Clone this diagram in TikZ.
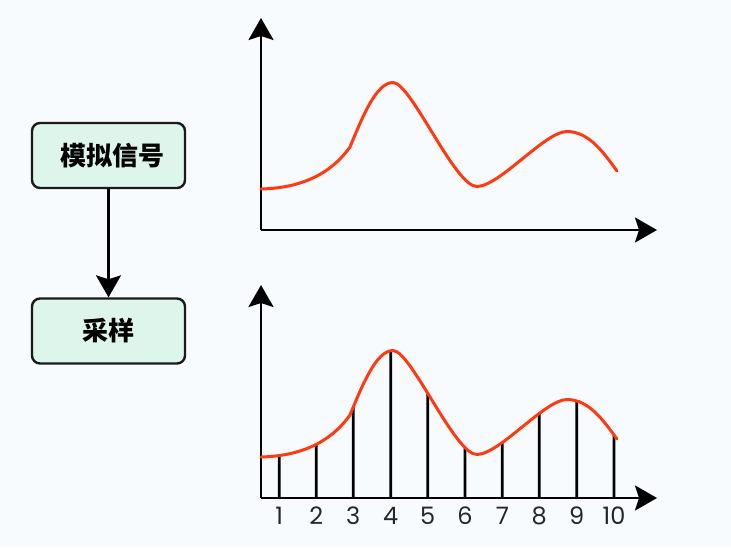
\documentclass[tikz,border=0pt]{standalone}
\usepackage{fontspec}
\setmainfont{Poppins}
\newfontfamily\cjk{Noto Sans CJK SC}
\usetikzlibrary{arrows.meta,intersections}
\definecolor{bgc}{HTML}{F8FBFE}
\definecolor{boxfill}{HTML}{DEF5EB}
\definecolor{boxline}{HTML}{1A1A1A}
\definecolor{curvec}{HTML}{FF3A10}
\tikzset{
  stepbox/.style={draw=boxline, line width=2.4pt, fill=boxfill, rounded corners=8pt,
    minimum width=153pt, minimum height=65pt, inner sep=0pt,
    font=\cjk\bfseries\fontsize{26}{26}\selectfont},
  bigarrow/.style={-{Stealth[length=22pt,width=25pt,inset=4pt]}},
  axisline/.style={line width=2.7pt, black, bigarrow},
  signal/.style={line width=3pt, curvec, line cap=round, line join=round},
  sampleline/.style={line width=2.7pt, black},
  ticklabel/.style={font=\fontsize{24}{24}\selectfont, text=black!85, inner sep=0pt},
  flow/.style={line width=2.4pt, black, bigarrow}
}
\newcommand{\signalpath}{(261,189) .. controls (300,188) and (330,175) .. (350,147)
  .. controls (362,118) and (376,82.5) .. (393,82.5)
  .. controls (411,82.5) and (455,187) .. (477,186.5)
  .. controls (500,186) and (545,131.5) .. (567,131.5)
  .. controls (590,131.5) and (605,155) .. (617,171)}
\begin{document}
\begin{tikzpicture}[x=1pt,y=-1pt]
\useasboundingbox[fill=bgc] (0,0) rectangle (731,547);
% boxes
\node[stepbox] (analog) at (108.5,155.5) {\hspace{9pt}模拟信号};
\node[stepbox] (sample) at (108.5,331) {采样};
\draw[flow] (analog) -- (sample);
% top plot
\coordinate (o1) at (261,230);
\coordinate (y1) at (261,18);
\coordinate (x1) at (657,230);
\draw[axisline] (o1) -- (y1);
\draw[axisline] (o1) -- (x1);
\draw[signal] \signalpath;
% bottom plot
\coordinate (o2) at (261,498);
\coordinate (y2) at (261,285);
\coordinate (x2) at (657,498);
\begin{scope}[yshift=-268pt]
\path[name path global=curveB] \signalpath;
\end{scope}
\foreach \i/\x in {1/279.3,2/316.3,3/353.3,4/390.7,5/427.7,6/465,7/502.3,8/539.3,9/576.7,10/614}{
  \coordinate (b\i) at (\x,498);
  \path[name path=v\i] (\x,499) -- (\x,300);
  \path[name intersections={of=curveB and v\i, by={s\i}}];
  \draw[sampleline] (b\i) -- (s\i);
  \node[ticklabel] (l\i) at (\x,515.5) {\i};
}
\draw[axisline] (o2) -- (y2);
\draw[axisline] (o2) -- (x2);
\begin{scope}[yshift=-268pt]
\draw[signal] \signalpath;
\end{scope}
\end{tikzpicture}
\end{document}
